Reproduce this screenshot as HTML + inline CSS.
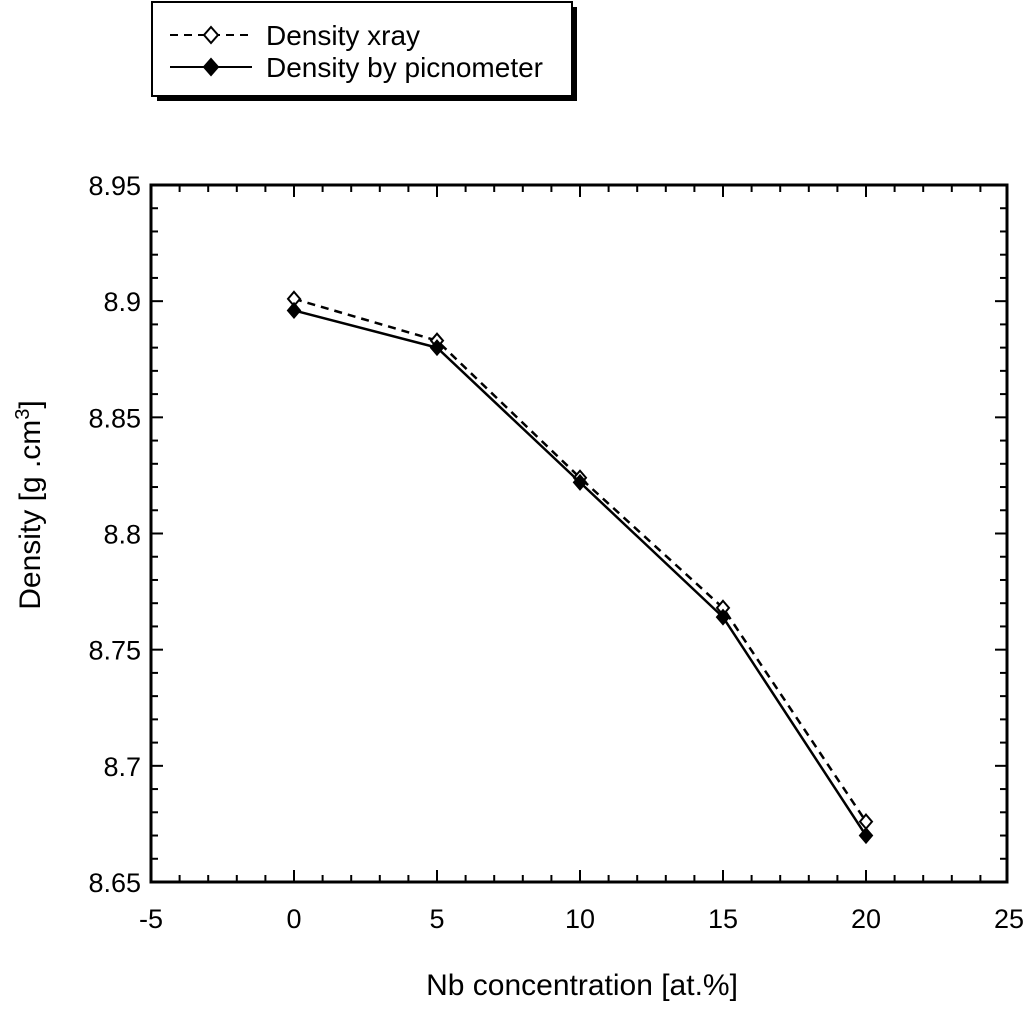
<!DOCTYPE html>
<html><head><meta charset="utf-8"><style>
html,body{margin:0;padding:0;background:#fff;}
svg text{font-family:"Liberation Sans",sans-serif;fill:#000;}
</style></head><body>
<svg width="1024" height="1006" viewBox="0 0 1024 1006">
<g id="legend">
  <rect x="157" y="7" width="420" height="94" fill="#000"/>
  <rect x="152" y="2" width="420" height="94" fill="#fff" stroke="#000" stroke-width="2"/>
  <g>
    <line x1="170" y1="35" x2="252" y2="35" stroke="#000" stroke-width="2" stroke-dasharray="8,6"/>
    <path d="M211,27 L218,35 L211,43 L204,35 Z" fill="#fff" stroke="#000" stroke-width="2"/>
    <text x="266" y="45" font-size="28">Density xray</text>
  </g>
  <g>
    <line x1="170" y1="67" x2="252" y2="67" stroke="#000" stroke-width="2"/>
    <path d="M211,59 L218,67 L211,75 L204,67 Z" fill="#000" stroke="#000" stroke-width="2"/>
    <text x="266" y="77" font-size="28">Density by picnometer</text>
  </g>
</g>
<g id="axes"></g>
<g id="series"></g>
<text x="40" y="505" font-size="30" text-anchor="middle" transform="rotate(-90 40 505)">Density [g .cm<tspan dy="-11" font-size="20">3</tspan><tspan dy="11">]</tspan></text>
<text x="582" y="995" font-size="30" text-anchor="middle">Nb concentration [at.%]</text>
</svg>
<script>
const xTicks=[-5,0,5,10,15,20,25];
const yTicks=[8.65,8.7,8.75,8.8,8.85,8.9,8.95];
const yTickLabels=["8.65","8.7","8.75","8.8","8.85","8.9","8.95"];
const categories=[0,5,10,15,20];
const xrayValues=[8.901,8.883,8.824,8.768,8.676];
const picValues=[8.896,8.880,8.822,8.764,8.670];

const L=151,R=1007,T=185,B=882;
const X=v=>294+(v-0)*(866-294)/20;
const Y=v=>B-(v-8.65)*(B-T)/0.3;
const NS="http://www.w3.org/2000/svg";
function mk(tag,attrs,parent){const e=document.createElementNS(NS,tag);for(const k in attrs)e.setAttribute(k,attrs[k]);parent.appendChild(e);return e;}
const ax=document.getElementById('axes');
const frame=mk('rect',{x:L,y:T,width:R-L,height:B-T,fill:'none',stroke:'#000','stroke-width':3},ax);


for(let v=-5;v<=25;v++){
  const major=v%5===0;const len=major?12:7;const x=X(v);
  if(x<L+2||x>R-2)continue;
  const t1=mk('line',{x1:x,y1:B,x2:x,y2:B-len,stroke:'#000','stroke-width':2},ax);
  
  
  const t2=mk('line',{x1:x,y1:T,x2:x,y2:T+len,stroke:'#000','stroke-width':2},ax);
  
  
}
xTicks.forEach(v=>{
  const t=mk('text',{x:X(v),y:B+46,'font-size':27,'text-anchor':'middle'},ax);t.textContent=String(v);
  
  
});
for(let i=0;i<=30;i++){
  const v=8.65+i*0.01;const major=i%5===0;const len=major?12:7;const y=Y(v);
  if(y<T+2||y>B-2)continue;
  const t1=mk('line',{x1:L,y1:y,x2:L+len,y2:y,stroke:'#000','stroke-width':2},ax);
  
  
  const t2=mk('line',{x1:R,y1:y,x2:R-len,y2:y,stroke:'#000','stroke-width':2},ax);
  
  
}
yTicks.forEach((v,i)=>{
  const t=mk('text',{x:L-10,y:Y(v)+10,'font-size':27,'text-anchor':'end'},ax);t.textContent=yTickLabels[i];
  
  
});
const sg=document.getElementById('series');
function series(vals,dash,fill,name){
  const pts=categories.map((c,i)=>X(c)+','+Y(vals[i])).join(' ');
  const pl=mk('polyline',{points:pts,fill:'none',stroke:'#000','stroke-width':2.5,'stroke-dasharray':dash},sg);
  
  
  categories.forEach((c,i)=>{
    const x=X(c),y=Y(vals[i]);
    const p=mk('path',{d:`M${x},${y-7} L${x+6},${y} L${x},${y+7} L${x-6},${y} Z`,fill:fill,stroke:'#000','stroke-width':2},sg);
    
    
  });
}
series(xrayValues,'8,6','#fff','xray');
series(picValues,'none','#000','picnometer');
</script>
</body></html>
